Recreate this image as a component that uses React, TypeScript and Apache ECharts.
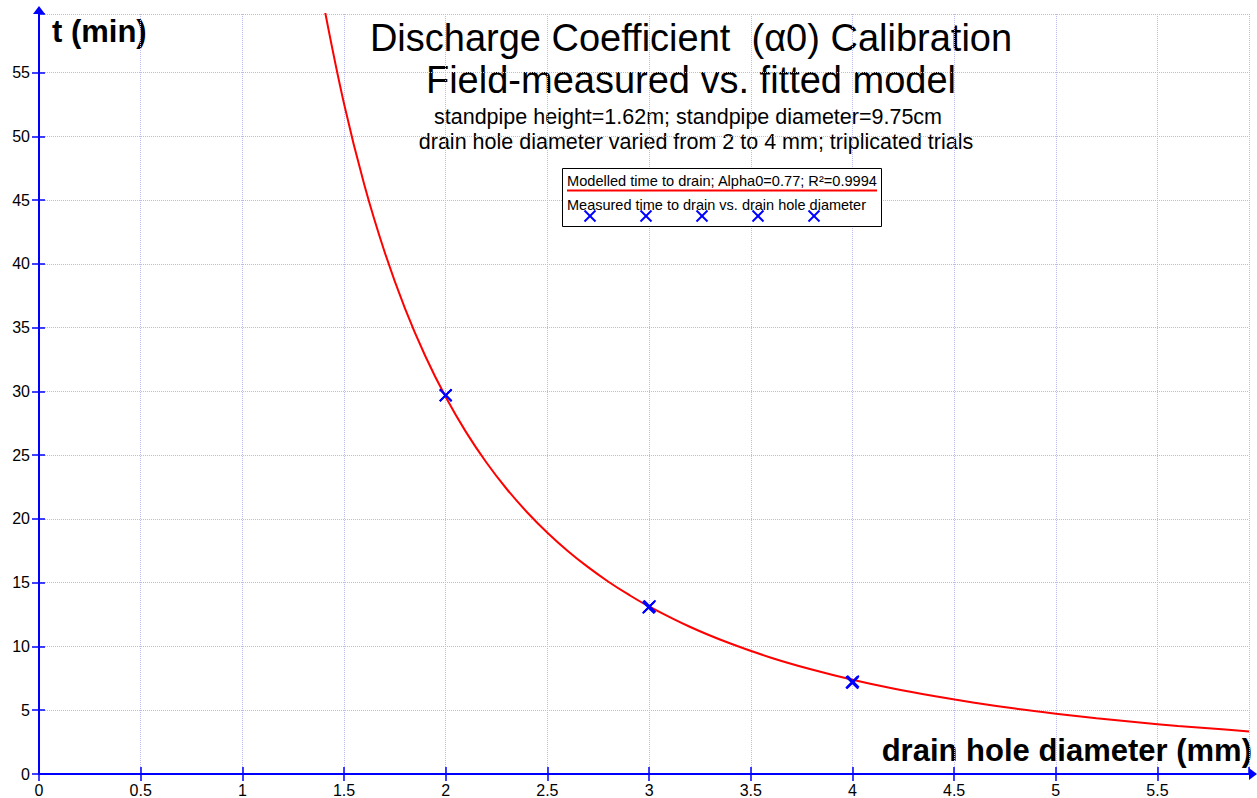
import React, { useEffect, useRef } from "react";
import * as echarts from "echarts";

// Fitted model curve
const modelDiameter = [1.4, 1.5, 1.6, 1.7, 1.8, 1.9, 2.0, 2.1, 2.2, 2.3, 2.4, 2.5, 2.6, 2.7, 2.8, 2.9, 3.0, 3.2, 3.4, 3.6, 3.8, 4.0, 4.2, 4.4, 4.6, 4.8, 5.0, 5.2, 5.4, 5.6, 5.8, 5.95];
const modelTime = [60.33, 52.56, 46.19, 40.92, 36.5, 32.76, 29.56, 26.81, 24.43, 22.35, 20.53, 18.92, 17.49, 16.22, 15.08, 14.06, 13.14, 11.55, 10.23, 9.12, 8.19, 7.39, 6.7, 6.11, 5.59, 5.13, 4.73, 4.37, 4.06, 3.77, 3.52, 3.34];

// Measured (triplicated trials)
const measuredDiameter = [2, 2, 2, 2.997, 3.003, 3, 3.997, 4.003, 4];
const measuredTime = [29.7, 29.7, 29.7, 13.05, 13.15, 13.1, 7.2, 7.25, 7.15];

const titleLines = ["Discharge Coefficient  (\u03b10) Calibration", "Field-measured vs. fitted model"];
const subtitleLines = ["standpipe height=1.62m; standpipe diameter=9.75cm", "drain hole diameter varied from 2 to 4 mm; triplicated trials"];
const legendLabels = ["Modelled time to drain; Alpha0=0.77; R\u00b2=0.9994", "Measured time to drain vs. drain hole diameter"];
const xName = "drain hole diameter (mm)";
const yName = "t (min)";

const FONT = "'Liberation Sans', Arial, sans-serif";
const BLUE = "#0000ff";
const GRIDC = "#babaf0";
const XPATH = "path://M0,1.2L1.2,0L6,4.8L10.8,0L12,1.2L7.2,6L12,10.8L10.8,12L6,7.2L1.2,12L0,10.8L4.8,6Z";

export default function App() {
  const ref = useRef<HTMLDivElement>(null);
  useEffect(() => {
    if (!ref.current) return;
    const chart = echarts.init(ref.current, null, { renderer: "svg" });
    const gridLeft = 39;
    const gridTop = 14;
    const gridRight = 1257 - 1249;
    const gridBottom = 798 - 775;
    const xMax = 5.95;
    const yMax = 59.6;

    const crossLines = (cx: number, cy: number, s: number) => [
      { type: "line", shape: { x1: cx - s, y1: cy - s, x2: cx + s, y2: cy + s }, style: { stroke: BLUE, lineWidth: 2 } },
      { type: "line", shape: { x1: cx - s, y1: cy + s, x2: cx + s, y2: cy - s }, style: { stroke: BLUE, lineWidth: 2 } },
    ];
    const legendCrossX = [590, 646, 702, 758, 814];

    const baseX = { type: "value", min: 0, max: xMax, interval: 0.5, position: "bottom" };
    const baseY = { type: "value", min: 0, max: yMax, interval: 5, position: "left" };

    chart.setOption({
      animation: false,
      backgroundColor: "#ffffff",
      grid: { left: gridLeft, top: gridTop, right: gridRight, bottom: gridBottom, containLabel: false },
      xAxis: [
        {
          ...baseX,
          axisLine: {
            show: true,
            lineStyle: { color: BLUE, width: 2 },
            symbol: ["none", "triangle"],
            symbolSize: [12, 8],
            symbolOffset: [0, 4],
          },
          axisTick: { show: true, length: 7, lineStyle: { color: BLUE, width: 1.5 } },
          axisLabel: { color: "#000", fontSize: 16, fontFamily: FONT, margin: 8, showMaxLabel: false },
          splitLine: { show: true, lineStyle: { color: GRIDC, type: "dotted", width: 1 } },
        },
        {
          ...baseX,
          axisLine: { show: false },
          axisTick: { show: true, inside: true, length: 7, lineStyle: { color: BLUE, width: 1.5 } },
          axisLabel: { show: false },
          splitLine: { show: false },
        },
      ],
      yAxis: [
        {
          ...baseY,
          axisLine: {
            show: true,
            lineStyle: { color: BLUE, width: 2 },
            symbol: ["none", "triangle"],
            symbolSize: [12, 8],
            symbolOffset: [0, 4],
          },
          axisTick: { show: true, length: 7, lineStyle: { color: BLUE, width: 1.5 } },
          axisLabel: { color: "#000", fontSize: 16, fontFamily: FONT, margin: 9, showMaxLabel: false },
          splitLine: { show: true, lineStyle: { color: GRIDC, type: "dotted", width: 1 } },
        },
        {
          ...baseY,
          axisLine: { show: false },
          axisTick: { show: true, inside: true, length: 6, lineStyle: { color: BLUE, width: 1.5 } },
          axisLabel: { show: false },
          splitLine: { show: false },
        },
      ],
      series: [
        {
          type: "line",
          name: legendLabels[0],
          data: modelDiameter.map((d, i) => [d, modelTime[i]]),
          smooth: 0.4,
          showSymbol: false,
          clip: true,
          lineStyle: { color: "#ff0000", width: 2 },
          z: 3,
        },
        {
          type: "scatter",
          name: legendLabels[1],
          data: measuredDiameter.map((d, i) => [d, measuredTime[i]]),
          symbol: XPATH,
          symbolSize: 13,
          itemStyle: { color: BLUE, opacity: 1 },
          z: 4,
        },
      ],
      graphic: [
        {
          type: "text",
          x: 691,
          y: 38,
          style: { text: titleLines[0], font: `normal 38px ${FONT}`, fill: "#000", align: "center", verticalAlign: "middle" },
        },
        {
          type: "text",
          x: 691,
          y: 80,
          style: { text: titleLines[1], font: `normal 38px ${FONT}`, fill: "#000", align: "center", verticalAlign: "middle" },
        },
        {
          type: "text",
          x: 688,
          y: 117,
          style: { text: subtitleLines[0], font: `normal 21.5px ${FONT}`, fill: "#000", align: "center", verticalAlign: "middle" },
        },
        {
          type: "text",
          x: 696,
          y: 142,
          style: { text: subtitleLines[1], font: `normal 21.5px ${FONT}`, fill: "#000", align: "center", verticalAlign: "middle" },
        },
        {
          type: "text",
          x: 52,
          y: 31,
          style: { text: yName, font: `bold 31px ${FONT}`, fill: "#000", align: "left", verticalAlign: "middle" },
        },
        {
          type: "text",
          x: 1252,
          y: 750,
          style: { text: xName, font: `bold 31px ${FONT}`, fill: "#000", align: "right", verticalAlign: "middle" },
        },
        {
          type: "rect",
          shape: { x: 562.5, y: 168.5, width: 319, height: 58 },
          style: { fill: "#fff", stroke: "#000", lineWidth: 1 },
          z: 10,
        },
        {
          type: "text",
          x: 567,
          y: 181,
          z: 11,
          style: { text: legendLabels[0], font: `normal 14.6px ${FONT}`, fill: "#000", align: "left", verticalAlign: "middle" },
        },
        {
          type: "line",
          z: 11,
          shape: { x1: 567, y1: 190.5, x2: 877, y2: 190.5 },
          style: { stroke: "#ff0000", lineWidth: 2 },
        },
        {
          type: "text",
          x: 567,
          y: 205,
          z: 11,
          style: { text: legendLabels[1], font: `normal 14.5px ${FONT}`, fill: "#000", align: "left", verticalAlign: "middle" },
        },
        ...legendCrossX.flatMap((cx) => crossLines(cx, 216, 5.5).map((e) => ({ ...e, z: 12 }))),
      ],
    });
    return () => chart.dispose();
  }, []);
  return <div ref={ref} style={{ position: "absolute", left: 0, top: 0, width: 1257, height: 798 }} />;
}
